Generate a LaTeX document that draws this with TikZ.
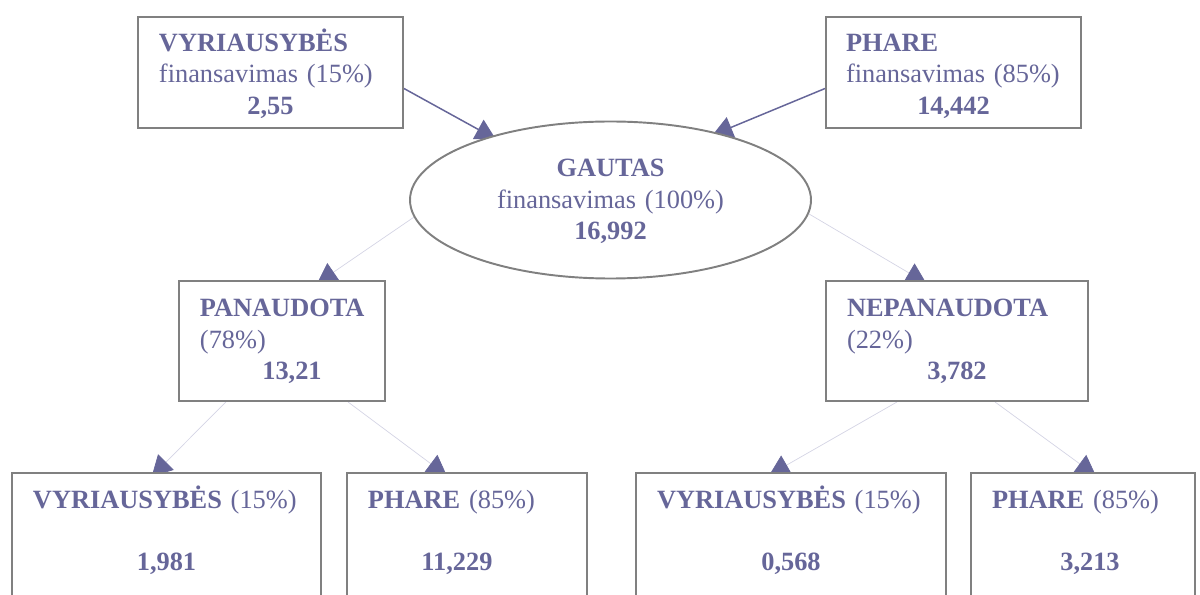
\documentclass[tikz,border=0pt]{standalone}
\usepackage{fontspec}
\setmainfont{Liberation Serif}
\usetikzlibrary{positioning,arrows.meta,shapes.geometric,backgrounds}

\definecolor{labelblue}{HTML}{666699}
\definecolor{framegray}{HTML}{808080}
\definecolor{faintline}{HTML}{D4D4E4}
\newcommand\midline[2][0cm]{\mbox{}\hfill\hspace*{#1}#2\hfill\mbox{}}

\begin{document}
\begin{tikzpicture}[on grid,
    font=\fontsize{15}{17.9}\selectfont,
    box/.style={rectangle,draw=framegray,line width=1.1pt,fill=white,text=labelblue,
        align=left,inner xsep=0.42cm,inner ysep=0pt},
    topbox/.style={box,text height=0.69cm,text depth=1.53cm},
    midbox/.style={box,text height=0.72cm,text depth=1.68cm},
    lowbox/.style={box,text height=0.7cm,text depth=2.64cm},
    feed/.style={draw=labelblue,line width=0.85pt,
        -{Triangle[length=0.4cm,width=0.44cm]},shorten >=-0.12cm},
    split/.style={draw=faintline,line width=0.4pt,
        -{Triangle[length=0.4cm,width=0.44cm,color=labelblue]},shorten >=-0.12cm}]
    \useasboundingbox (-12.21,4.0) rectangle (11.79,-7.9);

    \node[ellipse,draw=framegray,line width=1.1pt,fill=white,text=labelblue,align=center,
          text width=5cm,minimum width=8.02cm,minimum height=3.14cm,inner sep=0pt,
          text height=0.44cm,text depth=1.36cm] (gautas)
          {\textbf{GAUTAS}\\finansavimas (100\%)\\\textbf{16,992}};
    \node[topbox,text width=4.46cm] (gov) [above left=2.55cm and 6.8cm of gautas]
          {\textbf{VYRIAUSYBĖS}\\finansavimas (15\%)\\\midline{\textbf{2,55}}};
    \node[topbox,inner xsep=0.4cm,text width=4.3cm] (phare) [above right=2.55cm and 6.86cm of gautas]
          {\textbf{PHARE}\\finansavimas (85\%)\\\midline{\textbf{14,442}}};
    \node[midbox,text width=3.28cm] (panaud) [below left=2.82cm and 6.57cm of gautas]
          {\textbf{PANAUDOTA}\\(78\%)\\\midline[0.4cm]{\textbf{13,21}}};
    \node[midbox,text width=4.4cm] (nepanaud) [below right=2.82cm and 6.93cm of gautas]
          {\textbf{NEPANAUDOTA}\\(22\%)\\\midline{\textbf{3,782}}};

    \node[lowbox,text width=5.34cm] (usedgov) [below left=4.31cm and 2.31cm of panaud]
          {\textbf{VYRIAUSYBĖS} (15\%)\\\mbox{}\\\midline{\textbf{1,981}}};
    \node[lowbox,text width=3.96cm] (usedphare) [below right=4.31cm and 3.7cm of panaud]
          {\textbf{PHARE} (85\%)\\\mbox{}\\\midline[-0.4cm]{\textbf{11,229}}};
    \node[lowbox,text width=5.36cm] (unusedgov) [below left=4.31cm and 3.32cm of nepanaud]
          {\textbf{VYRIAUSYBĖS} (15\%)\\\mbox{}\\\midline{\textbf{0,568}}};
    \node[lowbox,text width=3.64cm] (unusedphare) [below right=4.31cm and 2.52cm of nepanaud]
          {\textbf{PHARE} (85\%)\\\mbox{}\\\midline[0.28cm]{\textbf{3,213}}};

    % arrow heads sit partly under the boxes
    \begin{scope}[on background layer]
        \draw[feed] ([yshift=-0.32cm]gov.east) -- (gautas.152);
        \draw[feed] ([yshift=-0.32cm]phare.west) -- (gautas.32);
        \draw[split] (gautas.185) -- ([xshift=0.8cm]panaud.north);
        \draw[split] (gautas.-4) -- ([xshift=-0.72cm]nepanaud.north);
        \draw[split] ([xshift=-1.12cm]panaud.south) -- ([xshift=-0.21cm]usedgov.north);
        \draw[split] ([xshift=1.32cm]panaud.south) -- ([xshift=-0.5cm]usedphare.north);
        \draw[split] ([xshift=-1.2cm]nepanaud.south) -- ([xshift=-0.33cm]unusedgov.north);
        \draw[split] ([xshift=0.76cm]nepanaud.south) -- ([xshift=0.16cm]unusedphare.north);
    \end{scope}
\end{tikzpicture}
\end{document}
